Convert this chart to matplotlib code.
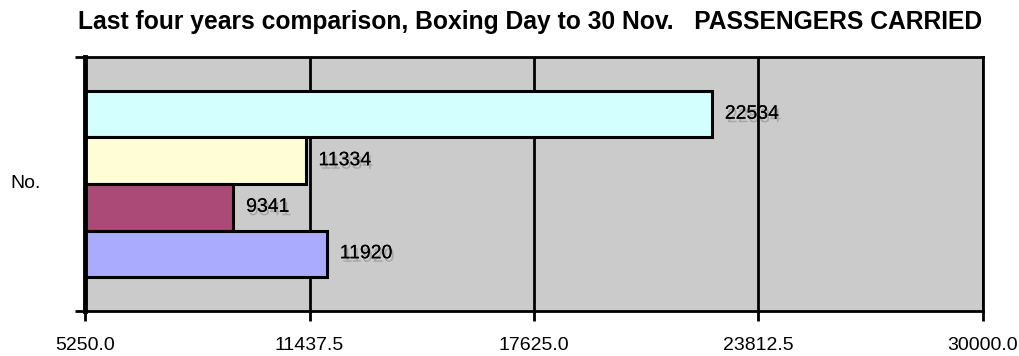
import matplotlib.pyplot as plt
import matplotlib.patheffects as pe
import numpy as np

# данные с картинки (сверху вниз)
series = ['Year 4', 'Year 3', 'Year 2', 'Year 1']
values = [22534, 11334, 9341, 11920]
bar_colors = ['#D4FFFF', '#FFFDD6', '#AB4A76', '#AAAAFF']
x_ticks = [5250.0, 11437.5, 17625.0, 23812.5, 30000.0]
category = 'No.'
title = 'Last four years comparison, Boxing Day to 30 Nov.   PASSENGERS CARRIED'

plt.rcParams['font.family'] = ['Liberation Sans', 'DejaVu Sans']

fig = plt.figure(figsize=(10.19, 3.56), dpi=100)
ax = fig.add_axes([85 / 1019, 1 - 311 / 356, (983 - 85) / 1019, (311 - 57) / 356])
ax.set_facecolor('#CBCBCB')

x0 = x_ticks[0]
ypos = np.arange(len(values))[::-1]
ax.barh(ypos, [v - x0 for v in values], left=x0, height=1.0,
        color=bar_colors, edgecolor='black', linewidth=2.2, zorder=3)

# тень под подписями, как в оригинале (размытие не делаем)
shadow = [pe.withSimplePatchShadow(offset=(1.5, -2.5), shadow_rgbFace='black', alpha=0.18), pe.Normal()]
for y, v in zip(ypos, values):
    ax.text(v + 350, y, f'{v}', va='center', ha='left', fontsize=14, zorder=4, path_effects=shadow)

ax.set_xlim(x_ticks[0], x_ticks[-1])
ylo, yhi = -1.23, 4.23
ax.set_ylim(ylo, yhi)
ax.set_xticks(x_ticks, [f'{t:.1f}' for t in x_ticks], fontsize=14)
ax.set_yticks([ylo, yhi], ['', ''])
ax.tick_params(axis='both', direction='out', length=7, width=2, pad=12)
ax.grid(axis='x', color='black', linewidth=2, zorder=1)

for s in ['top', 'right', 'bottom']:
    ax.spines[s].set_linewidth(2)
ax.spines['left'].set_linewidth(3.5)
ax.spines['left'].set_zorder(5)

ax.text(-0.049, 0.5, category, transform=ax.transAxes, ha='right', va='center', fontsize=14)
fig.text(530 / 1019, 1 - 28.7 / 356, title, ha='center', va='baseline', fontsize=17.7, fontweight='bold')

fig.savefig('out.png', dpi=100)
